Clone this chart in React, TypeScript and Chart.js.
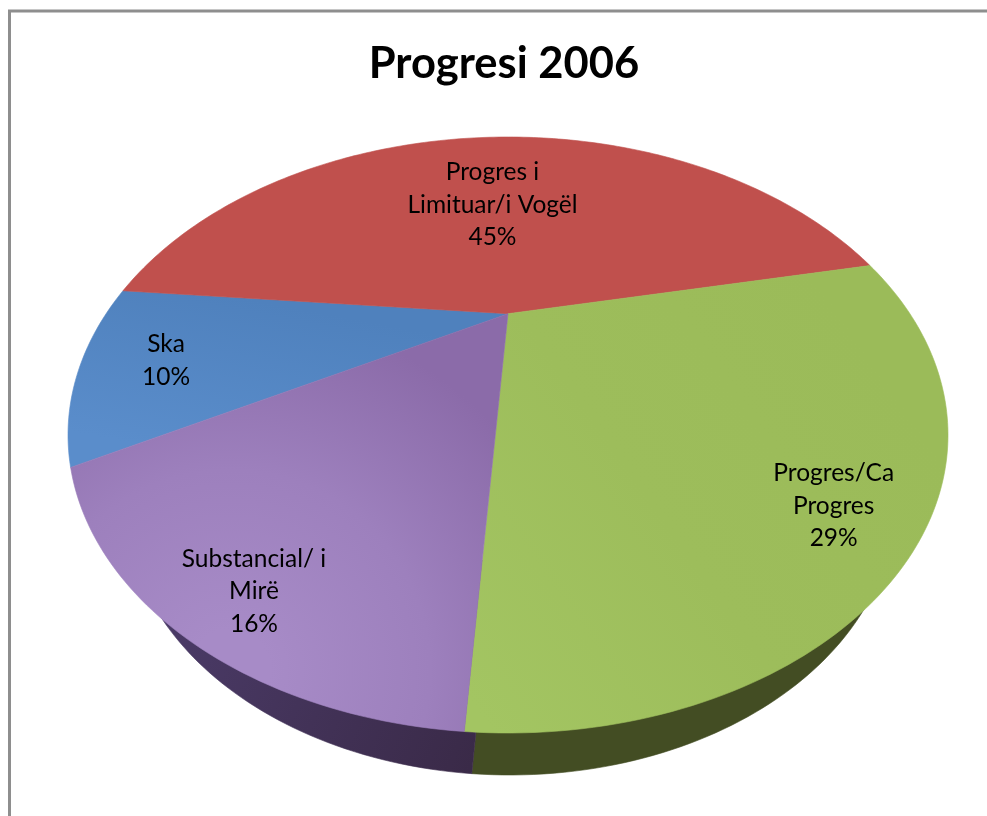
import React, { useEffect, useRef } from "react";
import { Chart, registerables } from "chart.js";

Chart.register(...registerables);

const categories = ["Ska", "Progres i Limituar/i Vogël", "Progres/Ca Progres", "Substancial/ i Mirë"];
const values = [9.75, 45.1, 29.4, 15.75];
const labelLines = [["Ska"], ["Progres i", "Limituar/i Vogël"], ["Progres/Ca", "Progres"], ["Substancial/ i", "Mirë"]];
const labelRadius = [0.81, 0.545, 0.85, 0.88];
const labelAngleShift = [0, -1.65, 2.6, -2.4];
const topColors = ["#5082c0", "#c0504d", "#9dbd5b", "#9a7dbb"];
const sideColors = ["#2c4668", "#6b2c2a", "#434d23", "#3f2f52"];
const chartTitle = "Progresi 2006";

const FONT = "Lato, Carlito, 'Open Sans', sans-serif";

type Disc = { cx: number; cy: number; a: number; b: number; t: number };
const TOP: Disc = { cx: 508, cy: 435, a: 440, b: 298, t: -0.407 };
const BOTTOM: Disc = { cx: 510, cy: 502, a: 385, b: 273, t: -0.407 };

// perspective projection of a point of the unit pie disc onto the tilted ellipse
function project(d: Disc, x0: number, y0: number): [number, number] {
  const s = Math.sqrt(1 - d.t * d.t);
  const den = 1 + d.t * y0;
  return [d.cx + (d.a * x0 * s) / den, d.cy + (d.b * (y0 + d.t)) / den];
}

function wedge(ctx: CanvasRenderingContext2D, d: Disc, start: number, end: number) {
  ctx.beginPath();
  const c = project(d, 0, 0);
  ctx.moveTo(c[0], c[1]);
  const n = Math.max(2, Math.ceil(((end - start) * 180) / Math.PI));
  for (let i = 0; i <= n; i++) {
    const ang = start + ((end - start) * i) / n;
    const p = project(d, Math.cos(ang), Math.sin(ang));
    ctx.lineTo(p[0], p[1]);
  }
  ctx.closePath();
}

function topFill(ctx: CanvasRenderingContext2D, i: number) {
  if (i === 0) {
    const g = ctx.createLinearGradient(200, 290, 170, 450);
    g.addColorStop(0, "#4f81bd");
    g.addColorStop(1, "#5a8dcb");
    return g;
  }
  if (i === 3) {
    const g = ctx.createRadialGradient(230, 670, 40, 230, 670, 360);
    g.addColorStop(0, "#a78bc7");
    g.addColorStop(0.5, "#9d80bd");
    g.addColorStop(1, "#8b6ba9");
    return g;
  }
  if (i === 2) {
    const g = ctx.createLinearGradient(470, 700, 900, 400);
    g.addColorStop(0, "#a3c562");
    g.addColorStop(0.5, "#9dbd5b");
    g.addColorStop(1, "#9bbb59");
    return g;
  }
  return topColors[i];
}

function sideFill(ctx: CanvasRenderingContext2D, i: number) {
  if (i === 3) {
    const g = ctx.createLinearGradient(170, 640, 470, 770);
    g.addColorStop(0, "#4a3a66");
    g.addColorStop(1, "#3a2a48");
    return g;
  }
  return sideColors[i];
}

const piePlugin = {
  id: "tiltedPie",
  beforeDraw(chart: any) {
    const ctx = chart.ctx;
    ctx.save();
    ctx.fillStyle = "#ffffff";
    ctx.fillRect(0, 0, chart.width, chart.height);
    ctx.strokeStyle = "#8e8e8e";
    ctx.lineWidth = 3;
    ctx.beginPath();
    ctx.moveTo(9.5, chart.height + 5);
    ctx.lineTo(9.5, 11);
    ctx.lineTo(chart.width + 5, 11);
    ctx.stroke();
    ctx.restore();
  },
  beforeDatasetsDraw(chart: any) {
    const ctx = chart.ctx;
    const arcs = chart.getDatasetMeta(0).data;
    ctx.save();
    // the side wall only shows below the front rim
    ctx.save();
    ctx.beginPath();
    ctx.rect(0, 560, chart.width, chart.height - 560);
    ctx.clip();
    arcs.forEach((arc: any, i: number) => {
      wedge(ctx, BOTTOM, arc.startAngle, arc.endAngle);
      const f = sideFill(ctx, i);
      ctx.fillStyle = f;
      ctx.strokeStyle = f;
      ctx.lineWidth = 0.6;
      ctx.fill();
      ctx.stroke();
    });
    ctx.restore();
    arcs.forEach((arc: any, i: number) => {
      wedge(ctx, TOP, arc.startAngle, arc.endAngle);
      const f = topFill(ctx, i);
      ctx.fillStyle = f;
      ctx.strokeStyle = f;
      ctx.lineWidth = 0.6;
      ctx.fill();
      ctx.stroke();
    });
    ctx.fillStyle = "#000000";
    ctx.font = `24.5px ${FONT}`;
    ctx.textAlign = "center";
    ctx.textBaseline = "middle";
    const total = values.reduce((a, b) => a + b, 0);
    arcs.forEach((arc: any, i: number) => {
      const mid = (arc.startAngle + arc.endAngle) / 2 + (labelAngleShift[i] * Math.PI) / 180;
      const r = labelRadius[i];
      const p = project(TOP, r * Math.cos(mid), r * Math.sin(mid));
      const lines = [...labelLines[i], `${Math.round((values[i] / total) * 100)}%`];
      const lh = 32.7;
      lines.forEach((line, k) => {
        ctx.fillText(line, p[0], p[1] + 1.5 + (k - (lines.length - 1) / 2) * lh);
      });
    });
    ctx.restore();
    return false;
  },
};

export default function App() {
  const ref = useRef<HTMLCanvasElement | null>(null);
  useEffect(() => {
    if (!ref.current) return;
    const chart = new Chart(ref.current, {
      type: "pie",
      data: {
        labels: categories,
        datasets: [{ data: values, backgroundColor: topColors, borderWidth: 0 }],
      },
      options: {
        responsive: false,
        animation: false,
        rotation: -119.6,
        layout: { padding: { left: 21, top: 38 } },
        plugins: {
          legend: { display: false },
          tooltip: { enabled: false },
          title: {
            display: true,
            text: chartTitle,
            color: "#000000",
            font: { family: FONT, size: 43.5, weight: "bold" },
            padding: 0,
          },
        },
      },
      plugins: [piePlugin as any],
    } as any);
    return () => chart.destroy();
  }, []);
  return (
    <div style={{ position: "absolute", left: 0, top: 0, width: 987, height: 816 }}>
      <canvas ref={ref} width={987} height={816} style={{ display: "block" }} />
    </div>
  );
}
